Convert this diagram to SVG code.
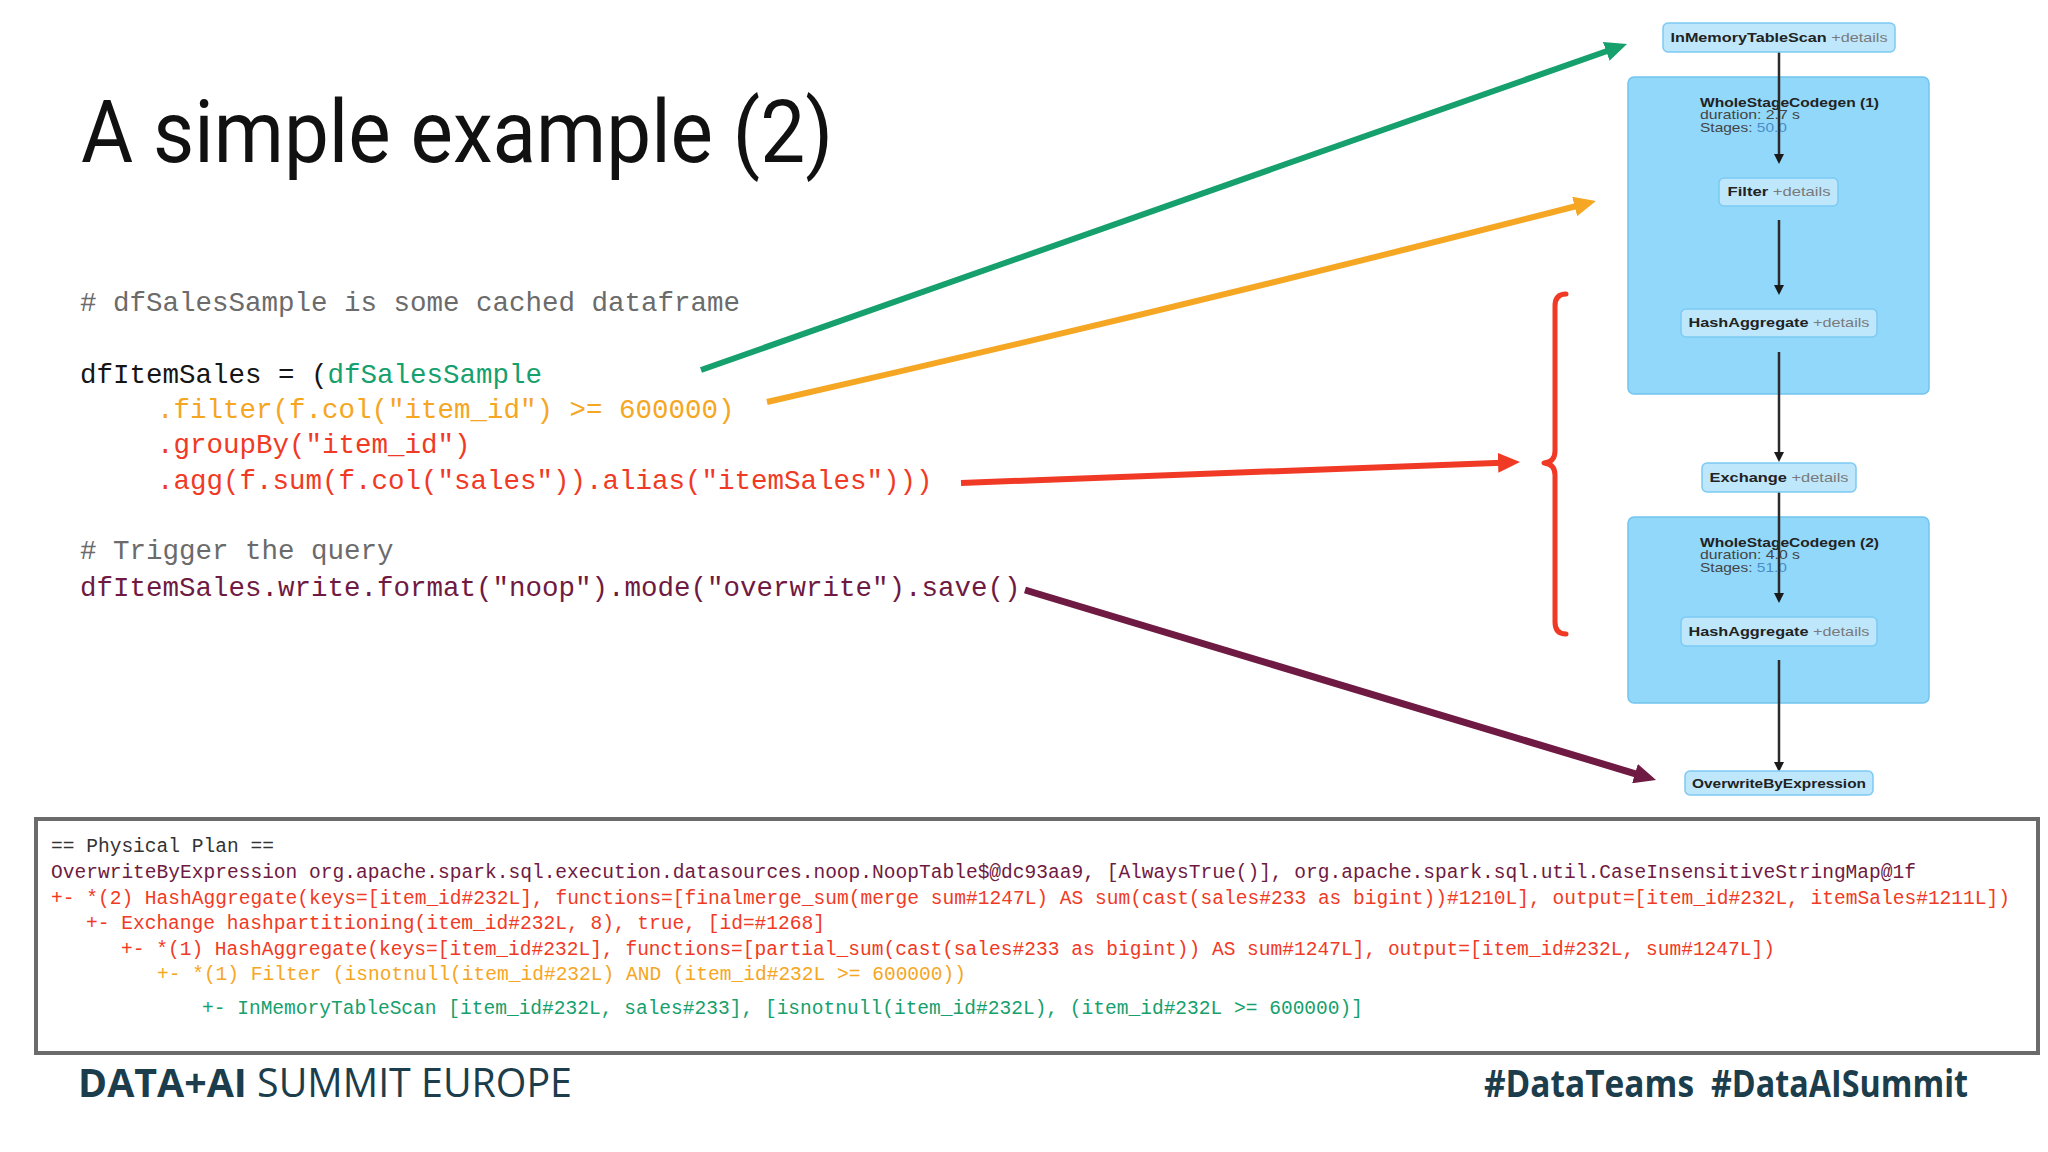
<svg xmlns="http://www.w3.org/2000/svg" width="2048" height="1152" viewBox="0 0 2048 1152">
<defs>
<style>
.title{font-family:Roboto,"Liberation Sans",sans-serif;font-size:88px;fill:#111}
.code{font-family:"Liberation Mono",monospace;font-size:28.5px}
.plan{font-family:"Liberation Mono",monospace;font-size:19.6px}
.cmt{fill:#6b6b6b}
.blk{fill:#151515}
.grn{fill:#15a06d}
.org{fill:#f5a623}
.red{fill:#f03a25}
.mar{fill:#6f1a42}
.dk{fill:#333}
.cl{fill:#92d8fa;stroke:#72c4ee;stroke-width:1.5}
.nd{fill:#bee7fb;stroke:#7ccaf3;stroke-width:1.5}
.nl{font-family:"Liberation Sans",Arial,sans-serif;font-size:13px;fill:#222}
.b{font-weight:bold}
.det{fill:#7a7a7a}
.cg{font-family:"Liberation Sans",Arial,sans-serif;font-size:13px;fill:#444}
.stg{fill:#4a8cc9}
.edge{stroke:#2a2a2a;stroke-width:2.5;fill:none}
.foot{font-family:"Open Sans","Liberation Sans",sans-serif;font-size:40px;fill:#1b3d4c}
.tag{font-family:"Open Sans","Liberation Sans",sans-serif;font-size:38px;font-weight:bold;fill:#1b3d4c}
</style>
<marker id="ah" markerUnits="userSpaceOnUse" markerWidth="10" markerHeight="10" viewBox="0 0 10 10" refX="7" refY="5" orient="auto">
<path d="M0,0 L10,5 L0,10 z" fill="#1a1a1a"/>
</marker>
<marker id="mg" markerUnits="userSpaceOnUse" markerWidth="22" markerHeight="20" viewBox="0 0 22 20" refX="4" refY="10" orient="auto">
<path d="M0,0 L22,10 L0,20 z" fill="#15a06d"/>
</marker>
<marker id="mo" markerUnits="userSpaceOnUse" markerWidth="22" markerHeight="20" viewBox="0 0 22 20" refX="4" refY="10" orient="auto">
<path d="M0,0 L22,10 L0,20 z" fill="#f5a623"/>
</marker>
<marker id="mr" markerUnits="userSpaceOnUse" markerWidth="22" markerHeight="20" viewBox="0 0 22 20" refX="4" refY="10" orient="auto">
<path d="M0,0 L22,10 L0,20 z" fill="#f03a25"/>
</marker>
<marker id="mm" markerUnits="userSpaceOnUse" markerWidth="22" markerHeight="20" viewBox="0 0 22 20" refX="4" refY="10" orient="auto">
<path d="M0,0 L22,10 L0,20 z" fill="#6f1a42"/>
</marker>
</defs>
<rect x="0" y="0" width="2048" height="1152" fill="#ffffff"/>

<text class="title" x="81" y="162" textLength="752" lengthAdjust="spacingAndGlyphs">A simple example (2)</text>

<g id="code">
<text class="code cmt" x="80" y="311" textLength="660" lengthAdjust="spacingAndGlyphs"># dfSalesSample is some cached dataframe</text>
<text class="code" x="80" y="383" textLength="462" lengthAdjust="spacingAndGlyphs"><tspan class="blk">dfItemSales = (</tspan><tspan class="grn">dfSalesSample</tspan></text>
<text class="code org" x="157" y="418" textLength="577.5" lengthAdjust="spacingAndGlyphs">.filter(f.col("item_id") &gt;= 600000)</text>
<text class="code red" x="157" y="453" textLength="313.5" lengthAdjust="spacingAndGlyphs">.groupBy("item_id")</text>
<text class="code red" x="157" y="489" textLength="775.5" lengthAdjust="spacingAndGlyphs">.agg(f.sum(f.col("sales")).alias("itemSales")))</text>
<text class="code cmt" x="80" y="559" textLength="313.5" lengthAdjust="spacingAndGlyphs"># Trigger the query</text>
<text class="code mar" x="80" y="596" textLength="940.5" lengthAdjust="spacingAndGlyphs">dfItemSales.write.format("noop").mode("overwrite").save()</text>
</g>

<g id="cluster-wsc1">
<rect class="cl" x="1628" y="77" width="301" height="317" rx="6"/>
<text class="cg" x="1700" y="107" textLength="179" lengthAdjust="spacingAndGlyphs"><tspan class="b" fill="#222">WholeStageCodegen (1)</tspan></text>
<text class="cg" x="1700" y="119" textLength="100" lengthAdjust="spacingAndGlyphs">duration: 2.7 s</text>
<text class="cg" x="1700" y="132" textLength="87" lengthAdjust="spacingAndGlyphs">Stages: <tspan class="stg">50.0</tspan></text>
</g>
<g id="cluster-wsc2">
<rect class="cl" x="1628" y="517" width="301" height="186" rx="6"/>
<text class="cg" x="1700" y="547" textLength="179" lengthAdjust="spacingAndGlyphs"><tspan class="b" fill="#222">WholeStageCodegen (2)</tspan></text>
<text class="cg" x="1700" y="559" textLength="100" lengthAdjust="spacingAndGlyphs">duration: 4.0 s</text>
<text class="cg" x="1700" y="572" textLength="87" lengthAdjust="spacingAndGlyphs">Stages: <tspan class="stg">51.0</tspan></text>
</g>

<g id="connectors">
<path class="edge" d="M1779,52 V161" marker-end="url(#ah)"/>
<path class="edge" d="M1779,220 V292" marker-end="url(#ah)"/>
<path class="edge" d="M1779,352 V459" marker-end="url(#ah)"/>
<path class="edge" d="M1779,492 V600" marker-end="url(#ah)"/>
<path class="edge" d="M1779,660 V769" marker-end="url(#ah)"/>
<path d="M701,370 L1610,50" stroke="#15a06d" stroke-width="6" fill="none" marker-end="url(#mg)"/>
<path d="M767,402 Q1180,308 1578.5,205.5" stroke="#f5a623" stroke-width="6" fill="none" marker-end="url(#mo)"/>
<path d="M961,483 L1502,462.7" stroke="#f03a25" stroke-width="6" fill="none" marker-end="url(#mr)"/>
<path d="M1025,590 L1638.8,774.8" stroke="#6f1a42" stroke-width="7" fill="none" marker-end="url(#mm)"/>
<path d="M1566,294 Q1555,294 1555,306 L1555,451 Q1555,462 1544,463 Q1555,464 1555,475 L1555,622 Q1555,634 1566,634" stroke="#f03a25" stroke-width="5" fill="none" stroke-linecap="round" stroke-linejoin="round"/>
</g>

<g id="node-inmemorytablescan">
<rect class="nd" x="1663" y="23" width="232" height="29" rx="5"/>
<text class="nl" x="1779" y="42" text-anchor="middle" textLength="217" lengthAdjust="spacingAndGlyphs"><tspan class="b">InMemoryTableScan</tspan> <tspan class="det">+details</tspan></text>
</g>
<g id="node-filter">
<rect class="nd" x="1719" y="178" width="119" height="28" rx="5"/>
<text class="nl" x="1779" y="196" text-anchor="middle" textLength="103" lengthAdjust="spacingAndGlyphs"><tspan class="b">Filter</tspan> <tspan class="det">+details</tspan></text>
</g>
<g id="node-hashaggregate1">
<rect class="nd" x="1681" y="309" width="196" height="28" rx="5"/>
<text class="nl" x="1779" y="327" text-anchor="middle" textLength="181" lengthAdjust="spacingAndGlyphs"><tspan class="b">HashAggregate</tspan> <tspan class="det">+details</tspan></text>
</g>
<g id="node-exchange">
<rect class="nd" x="1702" y="463" width="154" height="29" rx="5"/>
<text class="nl" x="1779" y="482" text-anchor="middle" textLength="139" lengthAdjust="spacingAndGlyphs"><tspan class="b">Exchange</tspan> <tspan class="det">+details</tspan></text>
</g>
<g id="node-hashaggregate2">
<rect class="nd" x="1681" y="617" width="196" height="29" rx="5"/>
<text class="nl" x="1779" y="636" text-anchor="middle" textLength="181" lengthAdjust="spacingAndGlyphs"><tspan class="b">HashAggregate</tspan> <tspan class="det">+details</tspan></text>
</g>
<g id="node-overwritebyexpression">
<rect class="nd" x="1685" y="771" width="188" height="24" rx="5"/>
<text class="nl b" x="1779" y="788" text-anchor="middle" textLength="174" lengthAdjust="spacingAndGlyphs">OverwriteByExpression</text>
</g>

<g id="physical-plan">
<rect x="36" y="819" width="2002" height="234" fill="#ffffff" stroke="#6b6b6b" stroke-width="4"/>
<text class="plan dk" x="51" y="852" textLength="222.9" lengthAdjust="spacingAndGlyphs">== Physical Plan ==</text>
<text class="plan mar" x="51" y="878" textLength="1865" lengthAdjust="spacingAndGlyphs">OverwriteByExpression org.apache.spark.sql.execution.datasources.noop.NoopTable$@dc93aa9, [AlwaysTrue()], org.apache.spark.sql.util.CaseInsensitiveStringMap@1f</text>
<text class="plan red" x="51" y="904" textLength="1959" lengthAdjust="spacingAndGlyphs">+- *(2) HashAggregate(keys=[item_id#232L], functions=[finalmerge_sum(merge sum#1247L) AS sum(cast(sales#233 as bigint))#1210L], output=[item_id#232L, itemSales#1211L])</text>
<text class="plan red" x="86" y="929" textLength="739" lengthAdjust="spacingAndGlyphs">+- Exchange hashpartitioning(item_id#232L, 8), true, [id=#1268]</text>
<text class="plan red" x="121" y="955" textLength="1654" lengthAdjust="spacingAndGlyphs">+- *(1) HashAggregate(keys=[item_id#232L], functions=[partial_sum(cast(sales#233 as bigint)) AS sum#1247L], output=[item_id#232L, sum#1247L])</text>
<text class="plan org" x="157" y="980" textLength="809" lengthAdjust="spacingAndGlyphs">+- *(1) Filter (isnotnull(item_id#232L) AND (item_id#232L &gt;= 600000))</text>
<text class="plan grn" x="202" y="1014" textLength="1161" lengthAdjust="spacingAndGlyphs">+- InMemoryTableScan [item_id#232L, sales#233], [isnotnull(item_id#232L), (item_id#232L &gt;= 600000)]</text>
</g>

<g id="footer">
<text class="foot" x="78" y="1097" textLength="494" lengthAdjust="spacingAndGlyphs"><tspan font-weight="bold">DATA+AI</tspan> SUMMIT EUROPE</text>
<text class="tag" x="1484" y="1097" textLength="210" lengthAdjust="spacingAndGlyphs">#DataTeams</text>
<text class="tag" x="1711" y="1097" textLength="257" lengthAdjust="spacingAndGlyphs">#DataAISummit</text>
</g>
</svg>
